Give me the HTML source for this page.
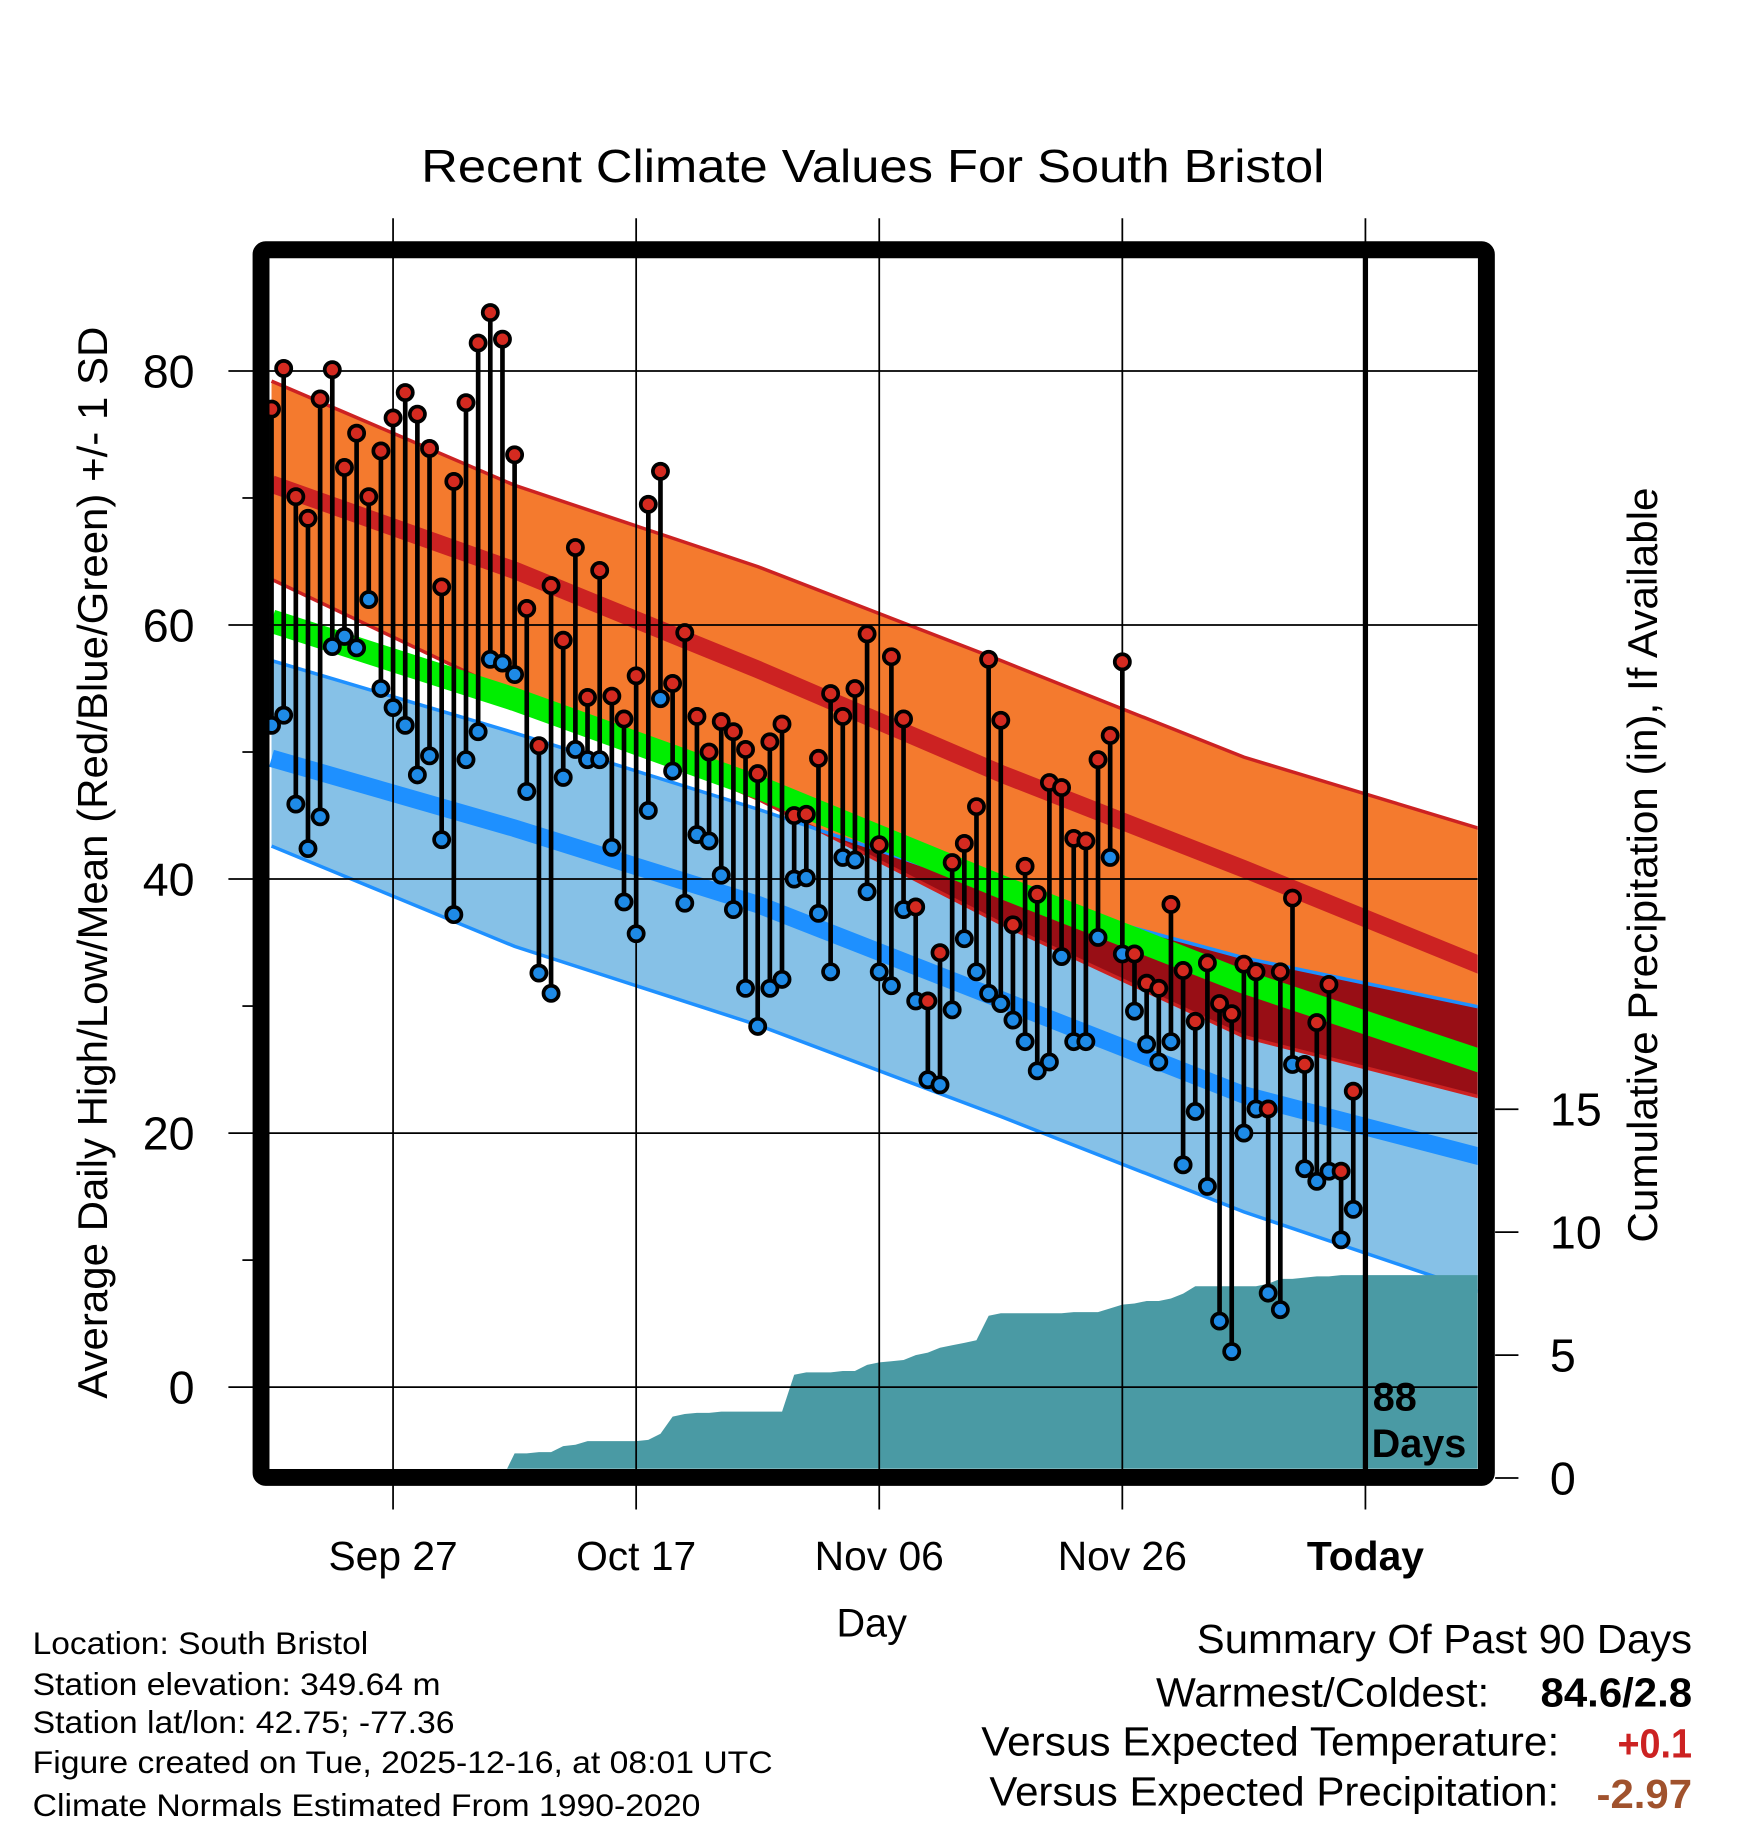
<!DOCTYPE html>
<html><head><meta charset="utf-8"><title>Recent Climate Values For South Bristol</title>
<style>html,body{margin:0;padding:0;background:#fff}svg{display:block}text{font-family:"Liberation Sans",sans-serif}</style>
</head><body>
<svg id="chart" width="1748" height="1828" viewBox="0 0 1500 1568" xmlns="http://www.w3.org/2000/svg">
<defs><clipPath id="plotclip"><rect x="231" y="221" width="1037" height="1039"/></clipPath><clipPath id="lowclip"><path id="lowclippath"/></clipPath></defs>
<text x="749" y="156" font-size="40" text-anchor="middle" textLength="775" lengthAdjust="spacingAndGlyphs">Recent Climate Values For South Bristol</text>
<g id="bands" clip-path="url(#plotclip)"></g>
<g id="precip" clip-path="url(#plotclip)"></g>
<g id="grid"></g>
<g id="obs" clip-path="url(#plotclip)"></g>
<g id="axes"></g>
<text transform="translate(92,740) rotate(-90)" font-size="36" text-anchor="middle" textLength="920" lengthAdjust="spacingAndGlyphs">Average Daily High/Low/Mean (Red/Blue/Green) +/- 1 SD</text>
<text transform="translate(1422,742) rotate(-90)" font-size="36" text-anchor="middle" textLength="648" lengthAdjust="spacingAndGlyphs">Cumulative Precipitation (in), If Available</text>
<text x="748" y="1404" font-size="34" text-anchor="middle">Day</text>
<g font-size="27">
<text x="28" y="1419" textLength="288" lengthAdjust="spacingAndGlyphs">Location: South Bristol</text>
<text x="28" y="1454" textLength="350" lengthAdjust="spacingAndGlyphs">Station elevation: 349.64 m</text>
<text x="28" y="1487" textLength="362" lengthAdjust="spacingAndGlyphs">Station lat/lon: 42.75; -77.36</text>
<text x="28" y="1521" textLength="635" lengthAdjust="spacingAndGlyphs">Figure created on Tue, 2025-12-16, at 08:01 UTC</text>
<text x="28" y="1558" textLength="573" lengthAdjust="spacingAndGlyphs">Climate Normals Estimated From 1990-2020</text>
</g>
<g font-size="35">
<text x="1027" y="1418" textLength="425" lengthAdjust="spacingAndGlyphs">Summary Of Past 90 Days</text>
<text x="992" y="1464" textLength="286" lengthAdjust="spacingAndGlyphs">Warmest/Coldest:</text>
<text x="1322" y="1464" font-weight="bold" textLength="130" lengthAdjust="spacingAndGlyphs">84.6/2.8</text>
<text x="842" y="1506" textLength="496" lengthAdjust="spacingAndGlyphs">Versus Expected Temperature:</text>
<text x="1388" y="1508" font-weight="bold" fill="#cc2222" textLength="64" lengthAdjust="spacingAndGlyphs">+0.1</text>
<text x="849" y="1549" textLength="489" lengthAdjust="spacingAndGlyphs">Versus Expected Precipitation:</text>
<text x="1370" y="1551" font-weight="bold" fill="#a0522d" textLength="82" lengthAdjust="spacingAndGlyphs">-2.97</text>
</g>
</svg>
<script>
// ---- data ----
const normalDays = [0, 20, 40, 60, 80, 100];
const normHighTop = [79.2, 71.0, 64.6, 57.2, 49.6, 43.8];
const normHighMean = [71.1, 64.3, 56.5, 48.3, 40.8, 33.0];
const normHighBot = [63.6, 54.5, 46.3, 36.5, 27.6, 22.7];
const normLowTop = [57.2, 51.5, 45.5, 39.0, 33.8, 29.8];
const normLowMean = [49.5, 44.0, 38.0, 30.5, 23.0, 18.0];
const normLowBot = [42.6, 34.7, 28.5, 21.3, 13.8, 7.3];
const highs = [77.0,80.2,70.1,68.4,77.8,80.1,72.4,75.1,70.1,73.7,76.3,78.3,76.6,73.9,63.0,71.3,77.5,82.2,84.6,82.5,73.4,61.3,50.5,63.1,58.8,66.1,54.3,64.3,54.4,52.6,56.0,69.5,72.1,55.4,59.4,52.8,50.0,52.4,51.6,50.2,48.3,50.8,52.2,45.0,45.1,49.5,54.6,52.8,55.0,59.3,42.7,57.5,52.6,37.8,30.4,34.2,41.3,42.8,45.7,57.3,52.5,36.4,41.0,38.8,47.6,47.2,43.2,43.0,49.4,51.3,57.1,34.1,31.8,31.4,38.0,32.8,28.8,33.4,30.2,29.4,33.3,32.7,21.9,32.7,38.5,25.4,28.7,31.7,17.0,23.3];
const lows = [52.1,52.9,45.9,42.4,44.9,58.3,59.1,58.2,62.0,55.0,53.5,52.1,48.2,49.7,43.1,37.2,49.4,51.6,57.3,57.0,56.1,46.9,32.6,31.0,48.0,50.2,49.4,49.4,42.5,38.2,35.7,45.4,54.2,48.5,38.1,43.5,43.0,40.3,37.6,31.4,28.4,31.4,32.1,40.0,40.1,37.3,32.7,41.7,41.5,39.0,32.7,31.6,37.6,30.4,24.2,23.8,29.7,35.3,32.7,31.0,30.2,28.9,27.2,24.9,25.6,33.9,27.2,27.2,35.4,41.7,34.1,29.6,27.0,25.6,27.2,17.5,21.7,15.8,5.2,2.8,20.0,21.9,7.4,6.1,25.4,17.2,16.2,17.0,11.6,14.0];
const precip = [0,0,0,0,0,0,0,0,0,0,0,0,0,0,0,0,0,0,0,0,1.0,1.0,1.05,1.05,1.3,1.35,1.5,1.5,1.5,1.5,1.5,1.55,1.8,2.5,2.6,2.65,2.65,2.7,2.7,2.7,2.7,2.7,2.7,4.2,4.3,4.3,4.3,4.35,4.35,4.6,4.7,4.75,4.8,5.0,5.1,5.3,5.4,5.5,5.6,6.6,6.7,6.7,6.7,6.7,6.7,6.7,6.75,6.75,6.75,6.9,7.05,7.1,7.2,7.2,7.3,7.5,7.8,7.8,7.8,7.8,7.8,7.8,7.9,8.1,8.1,8.15,8.2,8.2,8.25,8.25];
const xTickDays = [10, 30, 50, 70, 90];
const xTickLabels = ["Sep 27", "Oct 17", "Nov 06", "Nov 26", "Today"];
const yTicks = [0, 20, 40, 60, 80];
const yMinorTicks = [10, 30, 50, 70];
const pTicks = [0, 5, 10, 15];

// ---- scales ----
const X = d => 233 + d * 10.43;
const Y = v => 1190 - v * 10.9;
const P = v => 1268 - v * 21.1;
const NS = "http://www.w3.org/2000/svg";
function mk(tag, parent, attrs) { const e = document.createElementNS(NS, tag); for (const k in attrs) e.setAttribute(k, attrs[k]); parent.appendChild(e); return e; }
const pts = arr => normalDays.map((d, i) => [X(d), Y(arr[i])]);
const lineD = arr => pts(arr).map((p, i) => (i ? "L" : "M") + p[0].toFixed(1) + "," + p[1].toFixed(1)).join("");
const bandD = (top, bot) => { const a = pts(top), b = pts(bot).reverse(); return a.concat(b).map((p, i) => (i ? "L" : "M") + p[0].toFixed(1) + "," + p[1].toFixed(1)).join("") + "Z"; };
const meanArr = normHighMean.map((v, i) => (v + normLowMean[i]) / 2);

const bands = document.getElementById('bands');
let e;
e = mk('path', bands, { d: bandD(normHighTop, normHighBot), fill: '#f47a2e' });
 
e = mk('path', bands, { d: bandD(normLowTop, normLowBot), fill: '#86c1e7' });
 
document.getElementById('lowclippath').setAttribute('d', bandD(normLowTop, normLowBot));
e = mk('path', bands, { d: bandD(normHighTop, normHighBot), fill: '#980e15', 'clip-path': 'url(#lowclip)' });
 
e = mk('path', bands, { d: lineD(normHighTop), fill: 'none', stroke: '#cc2222', 'stroke-width': 3 });
 
e = mk('path', bands, { d: lineD(normHighBot), fill: 'none', stroke: '#cc2222', 'stroke-width': 3 });
 
e = mk('path', bands, { d: lineD(normLowTop), fill: 'none', stroke: '#1e90ff', 'stroke-width': 3 });
 
e = mk('path', bands, { d: lineD(normLowBot), fill: 'none', stroke: '#1e90ff', 'stroke-width': 3 });
 
e = mk('path', bands, { d: lineD(meanArr), fill: 'none', stroke: '#00ee00', 'stroke-width': 20 });
 
e = mk('path', bands, { d: lineD(normHighMean), fill: 'none', stroke: '#cc2222', 'stroke-width': 15 });
 
e = mk('path', bands, { d: lineD(normLowMean), fill: 'none', stroke: '#1e90ff', 'stroke-width': 15 });
 

// precipitation area
let pd = "M" + X(0) + "," + P(0);
precip.forEach((v, i) => { pd += "L" + X(i).toFixed(1) + "," + P(v).toFixed(1); });
pd += "L1270," + P(precip[precip.length - 1]).toFixed(1) + "L1270," + P(0) + "Z";
e = mk('path', document.getElementById('precip'), { d: pd, fill: '#4a9aa4' });
 

// grid & axes
const grid = document.getElementById('grid');
yTicks.forEach(v => {
  const g = mk('line', grid, { x1: 196, x2: 1268, y1: Y(v), y2: Y(v), stroke: '#000', 'stroke-width': 1.5 });
   
  const t = mk('text', grid, { x: 167, y: Y(v) + 14, 'font-size': 40, 'text-anchor': 'end' });
  t.textContent = v;
   
});
yMinorTicks.forEach(v => {
  const g = mk('line', grid, { x1: 208, x2: 220, y1: Y(v), y2: Y(v), stroke: '#000', 'stroke-width': 1.5 });
   
});
xTickDays.forEach((d, i) => {
  const today = xTickLabels[i] === 'Today';
  const g = mk('line', grid, { x1: X(d), x2: X(d), y1: 187, y2: 1295, stroke: '#000', 'stroke-width': 1.5 });
   
  if (today) {
    const tl = mk('line', grid, { x1: X(d), x2: X(d), y1: 221, y2: 1262, stroke: '#000', 'stroke-width': 4.5 });
     
  }
  const t = mk('text', grid, { x: X(d), y: 1347, 'font-size': 35, 'text-anchor': 'middle' });
  if (today) t.setAttribute('font-weight', 'bold');
  t.textContent = xTickLabels[i];
   
});

// observations
const obs = document.getElementById('obs');
highs.forEach((h, i) => {
  const l = lows[i];
  const s = mk('line', obs, { x1: X(i), x2: X(i), y1: Y(h), y2: Y(l), stroke: '#000', 'stroke-width': 4 });
   
});
highs.forEach((h, i) => {
  const l = lows[i];
  const cl = mk('circle', obs, { cx: X(i), cy: Y(l), r: 6.5, fill: '#1e8ae6', stroke: '#000', 'stroke-width': 3.2 });
   
  const ch = mk('circle', obs, { cx: X(i), cy: Y(h), r: 6.5, fill: '#d42a20', stroke: '#000', 'stroke-width': 3.2 });
   
});

// frame & right axis
const axes = document.getElementById('axes');
e = mk('rect', axes, { x: 224, y: 214, width: 1051.5, height: 1053.5, rx: 4, fill: 'none', stroke: '#000', 'stroke-width': 14.5 });
 
pTicks.forEach(v => {
  const g = mk('line', axes, { x1: 1283, x2: 1303, y1: P(v), y2: P(v), stroke: '#000', 'stroke-width': 1.5 });
   
  const t = mk('text', axes, { x: 1330, y: P(v) + 14, 'font-size': 40 });
  t.textContent = v;
   
});
const d1 = mk('text', axes, { x: 1178, y: 1210, 'font-size': 34, 'font-weight': 'bold' });
d1.textContent = '88';
 
const d2 = mk('text', axes, { x: 1177, y: 1250, 'font-size': 34, 'font-weight': 'bold' });
d2.textContent = 'Days';
 
</script>
</body></html>
